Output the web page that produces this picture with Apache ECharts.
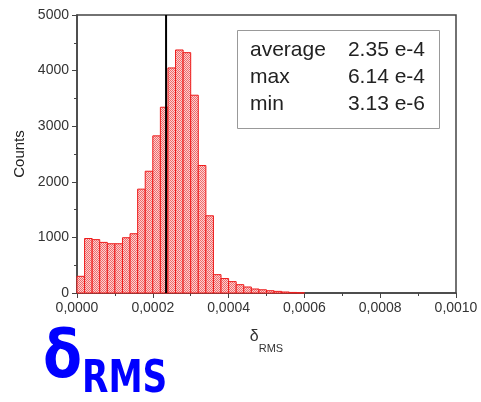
<!DOCTYPE html>
<html>
<head>
<meta charset="utf-8">
<script src="https://cdn.jsdelivr.net/npm/echarts@6/dist/echarts.min.js"></script>
<style>
  html, body { margin: 0; padding: 0; background: #fff; }
  #chart { width: 481px; height: 402px; }
</style>
</head>
<body>
<div id="chart"></div>
<script>
// histogram of delta_RMS, bins of 2e-5
const binWidth = 0.00002;
const counts = [300, 980, 960, 910, 886, 886, 994, 1066, 1868, 2190,
                2826, 3341, 4048, 4371, 4323, 3557, 2293, 1389, 330, 260,
                205, 150, 108, 72, 58, 41, 29, 18, 10, 4];
const averageValue = 0.000235;
const statNames = ['average', 'max', 'min'];
const statValues = ['2.35 e-4', '6.14 e-4', '3.13 e-6'];

const histData = counts.map((c, i) => [i * binWidth, (i + 1) * binWidth, c]);

// little dither pattern like the original print
const pat = document.createElement('canvas');
pat.width = 2; pat.height = 2;
const pctx = pat.getContext('2d');
pctx.fillStyle = '#fbd2d2';
pctx.fillRect(0, 0, 2, 2);
pctx.fillStyle = '#f06a6a';
pctx.fillRect(0, 0, 1, 1);
pctx.fillRect(1, 1, 1, 1);

const axisColor = '#444';
const font = 'Liberation Sans';

const chart = echarts.init(document.getElementById('chart'));

const statTexts = [];
statNames.forEach((n, i) => {
    statTexts.push({
        type: 'text', left: 250, top: 40 + i * 27,
        style: { text: n, font: '21px "Liberation Sans"', fill: '#222' }
    });
    statTexts.push({
        type: 'text', right: 56, top: 40 + i * 27,
        style: { text: statValues[i], font: '21px "Liberation Sans"', fill: '#222' }
    });
});

chart.setOption({
    animation: false,
    textStyle: { fontFamily: font },
    grid: {
        left: 77, right: 25, top: 15, bottom: 109,
        show: true, borderColor: axisColor, borderWidth: 1.5
    },
    xAxis: {
        type: 'value',
        min: 0, max: 0.001, interval: 0.0002,
        name: '{a|δ}{b|RMS}',
        nameLocation: 'middle',
        nameGap: 36,
        nameTextStyle: {
            rich: {
                a: { fontSize: 16, color: '#333', fontFamily: font, verticalAlign: 'top' },
                b: { fontSize: 11, color: '#333', fontFamily: font, verticalAlign: 'top', padding: [14, 0, 0, 0] }
            }
        },
        axisLine: { lineStyle: { color: axisColor, width: 1.5 } },
        axisTick: { length: 5, lineStyle: { color: axisColor } },
        minorTick: { show: true, splitNumber: 2, length: 3, lineStyle: { color: axisColor } },
        splitLine: { show: false },
        axisLabel: {
            fontSize: 14, color: '#333', margin: 8,
            formatter: v => v.toFixed(4).replace('.', ',')
        }
    },
    yAxis: {
        type: 'value',
        min: 0, max: 5000, interval: 1000,
        name: 'Counts',
        nameLocation: 'middle',
        nameGap: 49,
        nameTextStyle: { fontSize: 15, color: '#222' },
        axisLine: { show: true, lineStyle: { color: axisColor, width: 1.5 } },
        axisTick: { show: true, length: 5, lineStyle: { color: axisColor } },
        minorTick: { show: true, splitNumber: 2, length: 3, lineStyle: { color: axisColor } },
        splitLine: { show: false },
        axisLabel: { fontSize: 14, color: '#333', margin: 8, formatter: v => String(v) }
    },
    series: [{
        type: 'custom',
        data: histData,
        encode: { x: [0, 1], y: 2 },
        renderItem: function (params, api) {
            const p0 = api.coord([api.value(0), api.value(2)]);
            const p1 = api.coord([api.value(1), 0]);
            return {
                type: 'rect',
                shape: { x: p0[0], y: p0[1], width: p1[0] - p0[0], height: p1[1] - p0[1] },
                style: { fill: { image: pat, repeat: 'repeat' }, stroke: '#ee1c1c', lineWidth: 1 }
            };
        }
    }, {
        // average marker
        type: 'line',
        data: [[averageValue, 0], [averageValue, 5000]],
        symbol: 'none',
        silent: true,
        z: 5,
        lineStyle: { color: '#000', width: 2 }
    }],
    graphic: [
        {
            type: 'rect', left: 237, top: 30,
            shape: { width: 202, height: 98 },
            style: { fill: '#fff', stroke: '#999', lineWidth: 1 }
        },
        ...statTexts,
        {
            type: 'text', left: 43, top: 327, scaleX: 0.86,
            style: { text: 'δ', font: 'bold 66px "DejaVu Sans"', fill: '#0000ff' }
        },
        {
            type: 'text', left: 82, top: 359, scaleX: 0.78,
            style: { text: 'RMS', font: 'bold 44px "DejaVu Sans"', fill: '#0000ff' }
        }
    ]
});
</script>
</body>
</html>
